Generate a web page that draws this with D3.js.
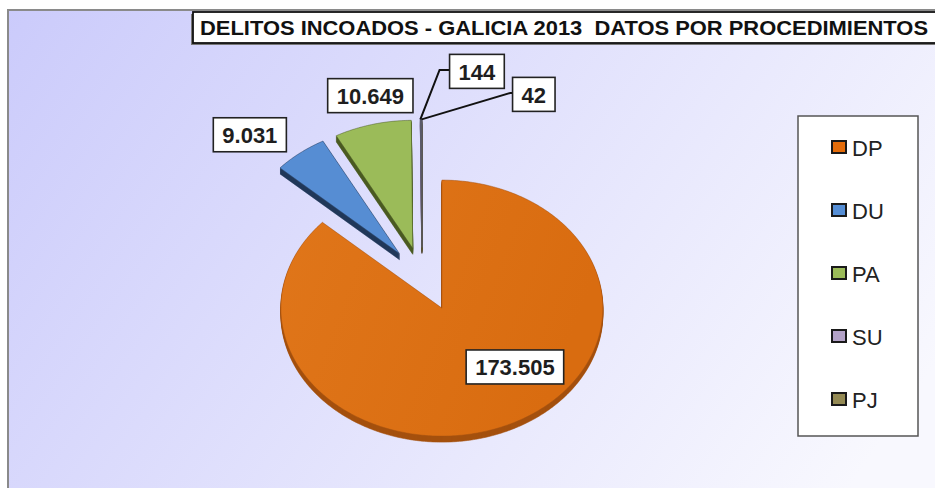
<!DOCTYPE html>
<html><head><meta charset="utf-8">
<script src="https://cdn.jsdelivr.net/npm/d3@7"></script>
<style>body{margin:0;background:#fff;}svg{display:block;}</style>
</head><body>
<script>
// ---- data ----
const categories = ["DP", "DU", "PA", "SU", "PJ"];
const values = [173505, 9031, 10649, 144, 42];
const titleText = "DELITOS INCOADOS - GALICIA 2013  DATOS POR PROCEDIMIENTOS";

// ---- styles ----
const topColors  = ["#DC6E12", "#568DD3", "#9BBB59", "#B3A2C7", "#948A54"];
const sideColors = ["#A4500E", "#22395A", "#4A5A22", "#6E5F84", "#5A5430"];
const legendColors = ["#E46C0A", "#558ED5", "#9BBB59", "#B3A2C7", "#948A54"];
const explode = [45, 36, 36, 36, 36];
// label box centre offsets from the slice's outer mid point, and leader elbow lengths
const labelOffsets = [[2, -56], [-49, -19], [-1, -29], [56, -48], [112, -25]];
const leader = [null, null, null, 10, 2];

const W = 935, H = 488;
const fmt = d3.formatLocale({decimal: ",", thousands: ".", grouping: [3], currency: ["", "€"]}).format(",d");

const svg = d3.select("body").append("svg").attr("width", W).attr("height", H)
  .style("font-family", "'Liberation Sans', Arial, sans-serif");
const defs = svg.append("defs");
const bg = defs.append("linearGradient").attr("id", "bg")
  .attr("gradientUnits", "userSpaceOnUse").attr("x1", 8).attr("y1", 10).attr("x2", 800).attr("y2", 560);
bg.append("stop").attr("offset", 0).attr("stop-color", "#CBCBFB");
bg.append("stop").attr("offset", 1).attr("stop-color", "#F8F8FE");
const og = defs.append("linearGradient").attr("id", "dpg")
  .attr("x1", 0).attr("y1", 0).attr("x2", 1).attr("y2", 0.3);
og.append("stop").attr("offset", 0).attr("stop-color", "#E0761A");
og.append("stop").attr("offset", 1).attr("stop-color", "#D96C10");

// chart area
svg.append("rect").attr("x", 8).attr("y", 10).attr("width", W).attr("height", H)
  .attr("fill", "url(#bg)").attr("stroke", "#8a8a8a").attr("stroke-width", 2);

// ---- pie ----
const cx = 422, cy = 276, rx = 161, ry = 128, q = 0.68, depth = 6;
const pie = d3.pie().sort(null).value(d => d).startAngle(0).endAngle(2 * Math.PI);
const arcs = pie(values);
const warp = a => Math.atan2(Math.sin(a), Math.cos(a) * q);
const proj = (a, r = 1) => { const p = warp(a); return [r * rx * Math.sin(p), -r * ry * Math.cos(p)]; };
function slicePath(d) {
  const n = Math.max(2, Math.ceil((d.endAngle - d.startAngle) / (Math.PI / 360)));
  const pts = [[0, 0]];
  for (let i = 0; i <= n; i++) pts.push(proj(d.startAngle + (d.endAngle - d.startAngle) * i / n));
  return "M" + pts.map(p => p[0].toFixed(2) + "," + p[1].toFixed(2)).join("L") + "Z";
}
function sliceOffset(d, i) {
  const p = warp((d.startAngle + d.endAngle) / 2);
  return [explode[i] * Math.sin(p), -explode[i] * Math.cos(p) * ry / rx];
}

const drawOrder = [1, 2, 3, 4, 0];
const pieG = svg.append("g");
drawOrder.forEach(i => {
  const d = arcs[i];
  const o = sliceOffset(d, i);
  const g = pieG.append("g").attr("transform", `translate(${cx + o[0]},${cy + o[1]})`);
  const path = slicePath(d);
  for (let k = depth; k >= 1; k--) {
    g.append("path").attr("d", path).attr("transform", `translate(0,${k})`)
      .attr("fill", sideColors[i]).attr("stroke", sideColors[i]).attr("stroke-width", 0.6);
  }
  const thin = (d.endAngle - d.startAngle) < 0.02;
  g.append("path").attr("d", path)
    .attr("fill", i === 0 ? "url(#dpg)" : topColors[i])
    .attr("stroke", thin ? "#5a5a6a" : sideColors[i])
    .attr("stroke-width", thin ? 1.2 : 0.7).attr("stroke-opacity", thin ? 1 : 0.7);
});

// ---- data labels ----
const labG = svg.append("g");
arcs.forEach((d, i) => {
  const o = sliceOffset(d, i);
  const outer = proj((d.startAngle + d.endAngle) / 2);
  const ax = cx + o[0] + outer[0], ay = cy + o[1] + outer[1];
  const lx = ax + labelOffsets[i][0], ly = ay + labelOffsets[i][1];
  const g = labG.append("g");
  const rect = g.append("rect");
  const t = g.append("text").attr("x", lx).attr("y", ly + 1).attr("text-anchor", "middle")
    .attr("dominant-baseline", "central").attr("font-size", 22).attr("font-weight", "bold")
    .attr("fill", "#1e1e1e").text(fmt(values[i]));
  const tw = t.node().getComputedTextLength();
  const bw = tw + 18, bh = 34;
  rect.attr("x", lx - bw / 2).attr("y", ly - bh / 2).attr("width", bw).attr("height", bh)
    .attr("fill", "#fff").attr("stroke", "#222").attr("stroke-width", 1.6);
  if (leader[i] !== null) {
    const px = cx + o[0] + proj(d.startAngle)[0];
    const py = cy + o[1] + proj(d.startAngle)[1];
    const bx = lx - bw / 2, by = ly - 1.5;
    g.insert("polyline", "rect")
      .attr("points", `${px},${py} ${bx - leader[i]},${by} ${bx},${by}`)
      .attr("fill", "none").attr("stroke", "#111").attr("stroke-width", 2);
  }
});

// ---- title ----
svg.append("rect").attr("x", 191).attr("y", 14).attr("width", 760).attr("height", 31).attr("fill", "#777");
svg.append("rect").attr("x", 193).attr("y", 12).attr("width", 760).attr("height", 31)
  .attr("fill", "#fff").attr("stroke", "#111").attr("stroke-width", 1.8);
svg.append("text").attr("x", 200).attr("y", 35).attr("font-size", 20).attr("font-weight", "bold")
  .style("white-space", "pre")
  .attr("fill", "#111").attr("textLength", 728).attr("lengthAdjust", "spacingAndGlyphs").text(titleText);

// ---- legend ----
const lg = svg.append("g");
lg.append("rect").attr("x", 798).attr("y", 116).attr("width", 120).attr("height", 320)
  .attr("fill", "#fff").attr("stroke", "#555").attr("stroke-width", 1.5);
const ly = d3.scalePoint().domain(categories).range([147, 399]);
categories.forEach((c, i) => {
  const y = ly(c);
  lg.append("rect").attr("x", 832).attr("y", y - 6).attr("width", 14).attr("height", 12)
    .attr("fill", legendColors[i]).attr("stroke", "#1a1a1a").attr("stroke-width", 2);
  lg.append("text").attr("x", 852).attr("y", y + 1).attr("dominant-baseline", "central")
    .attr("font-size", 22).attr("fill", "#222").text(c);
});
</script>
</body></html>
